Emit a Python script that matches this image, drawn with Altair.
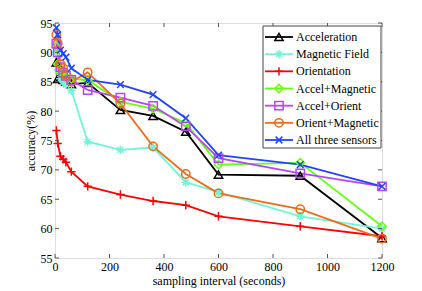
import altair as alt
import pandas as pd

intervals = [5, 10, 20, 30, 40, 60, 120, 240, 360, 480, 600, 900, 1200]
series_names = ["Acceleration", "Magnetic Field", "Orientation", "Accel+Magnetic",
                "Accel+Orient", "Orient+Magnetic", "All three sensors"]
acceleration = [88.3, 85.5, 85.8, 85.3, 85.0, 84.6, 84.8, 80.2, 79.2, 76.5, 69.2, 69.0, 58.4]
magnetic = [90.0, 87.0, 85.5, 85.0, 84.5, 83.5, 74.8, 73.4, 73.8, 67.9, 66.2, 62.1, 60.0]
orientation = [76.7, 74.5, 72.3, 71.8, 71.3, 69.7, 67.2, 65.8, 64.7, 64.0, 62.1, 60.4, 58.7]
accel_magnetic = [91.0, 88.0, 86.5, 86.0, 85.8, 85.5, 85.3, 81.6, 80.4, 78.0, 70.9, 71.2, 60.4]
accel_orient = [91.5, 90.0, 87.5, 86.5, 86.0, 85.3, 83.6, 82.3, 80.9, 77.4, 72.0, 69.4, 67.2]
orient_magnetic = [93.0, 91.5, 88.0, 87.3, 86.2, 85.0, 86.6, 81.3, 74.0, 69.3, 66.0, 63.3, 58.3]
all_three = [94.2, 93.0, 90.4, 89.8, 89.2, 87.3, 85.3, 84.5, 82.8, 78.8, 72.5, 70.9, 67.2]

x_ticks = [0, 200, 400, 600, 800, 1000, 1200]
y_ticks = [55, 60, 65, 70, 75, 80, 85, 90, 95]

colors = ["#000000", "#72f5d6", "#ff0000", "#66ff11", "#b845f5", "#ec6c18", "#2244ff"]
shapes = [
    "triangle-up",
    "M-1,0L1,0M0,-1L0,1M-0.7,-0.7L0.7,0.7M-0.7,0.7L0.7,-0.7",
    "M-1,0L1,0M0,-1L0,1",
    "diamond",
    "square",
    "circle",
    "M-0.8,-0.8L0.8,0.8M-0.8,0.8L0.8,-0.8",
]
sizes = [70, 70, 90, 70, 55, 80, 70]

all_values = [acceleration, magnetic, orientation, accel_magnetic, accel_orient,
              orient_magnetic, all_three]
rows = []
for name, vals in zip(series_names, all_values):
    for xi, yi in zip(intervals, vals):
        rows.append({"interval": xi, "accuracy": yi, "series": name})
df = pd.DataFrame(rows)

FONT = "Liberation Serif"
W, H = 327, 235

xscale = alt.Scale(domain=[0, 1200], nice=False, zero=False)
yscale = alt.Scale(domain=[55, 95], nice=False, zero=False)
cscale = alt.Scale(domain=series_names, range=colors)
sscale = alt.Scale(domain=series_names, range=shapes)
zscale = alt.Scale(domain=series_names, range=sizes)

xaxis = alt.Axis(title="sampling interval (seconds)", values=x_ticks, ticks=False,
                 domain=False, grid=False, labelFont=FONT, labelFontSize=12, format="d",
                 labelColor="#000", titleFont=FONT, titleFontSize=12,
                 titleFontWeight="normal", titleColor="#000", labelPadding=3,
                 titlePadding=3, labelFlush=False)
yaxis = alt.Axis(title="accuracy(%)", values=y_ticks, ticks=False, domain=False,
                 grid=False, labelFont=FONT, labelFontSize=12, labelColor="#000",
                 titleFont=FONT, titleFontSize=12, titleFontWeight="normal",
                 titleColor="#000", labelPadding=3, titlePadding=3, labelFlush=False)

X = lambda: alt.X("interval:Q", scale=xscale, axis=xaxis)
Y = lambda: alt.Y("accuracy:Q", scale=yscale, axis=yaxis)

base = alt.Chart(df)
lines = base.mark_line(strokeWidth=1.8).encode(
    x=X(), y=Y(),
    color=alt.Color("series:N", scale=cscale, legend=None),
    detail="series:N",
)
points = base.mark_point(filled=False, strokeWidth=1.5, opacity=1).encode(
    x=X(), y=Y(),
    color=alt.Color("series:N", scale=cscale, legend=None),
    shape=alt.Shape("series:N", scale=sscale, legend=None),
    size=alt.Size("series:N", scale=zscale, legend=None),
)

xt = pd.DataFrame({"interval": x_ticks})
yt = pd.DataFrame({"accuracy": y_ticks})
tick_col = "#555555"
xt_bot = alt.Chart(xt).mark_rule(color=tick_col, strokeWidth=1).encode(
    x=X(), y=alt.value(H), y2=alt.value(H - 4))
xt_top = alt.Chart(xt).mark_rule(color=tick_col, strokeWidth=1).encode(
    x=X(), y=alt.value(0), y2=alt.value(4))
yt_left = alt.Chart(yt).mark_rule(color=tick_col, strokeWidth=1).encode(
    y=Y(), x=alt.value(0), x2=alt.value(4))
yt_right = alt.Chart(yt).mark_rule(color=tick_col, strokeWidth=1).encode(
    y=Y(), x=alt.value(W), x2=alt.value(W - 4))

main = alt.layer(lines, points, xt_bot, xt_top, yt_left, yt_right)

# legend
leg_df = pd.DataFrame({"series": series_names})
lyscale = alt.Scale(type="point", domain=series_names, range=[14, 117], padding=0)
frame = alt.Chart(pd.DataFrame({"k": [0]})).mark_rect(
    fill="white", stroke="#444444", strokeWidth=1).encode(
    x=alt.value(208), x2=alt.value(326), y=alt.value(3), y2=alt.value(125))
leg_lines = alt.Chart(leg_df).mark_rule(strokeWidth=1.8).encode(
    x=alt.value(210), x2=alt.value(238),
    y=alt.Y("series:N", scale=lyscale, axis=None),
    color=alt.Color("series:N", scale=cscale, legend=None))
leg_pts = alt.Chart(leg_df).mark_point(filled=False, strokeWidth=1.5, opacity=1).encode(
    x=alt.value(224),
    y=alt.Y("series:N", scale=lyscale, axis=None),
    color=alt.Color("series:N", scale=cscale, legend=None),
    shape=alt.Shape("series:N", scale=sscale, legend=None),
    size=alt.Size("series:N", scale=zscale, legend=None))
leg_text = alt.Chart(leg_df).mark_text(
    align="left", baseline="middle", font=FONT, fontSize=12, color="#000").encode(
    x=alt.value(241),
    y=alt.Y("series:N", scale=lyscale, axis=None),
    text="series:N")
legend = alt.layer(frame, leg_lines, leg_pts, leg_text)

chart = alt.layer(main, legend).resolve_scale(y="independent").properties(
    width=W, height=H,
    autosize=alt.AutoSizeParams(type="none"),
    padding={"left": 47, "top": 15, "right": 32, "bottom": 32},
).configure_view(stroke="#555555", strokeWidth=1).configure(background="white")

chart.save("out.html", embed_options={"renderer": "svg", "actions": False})
